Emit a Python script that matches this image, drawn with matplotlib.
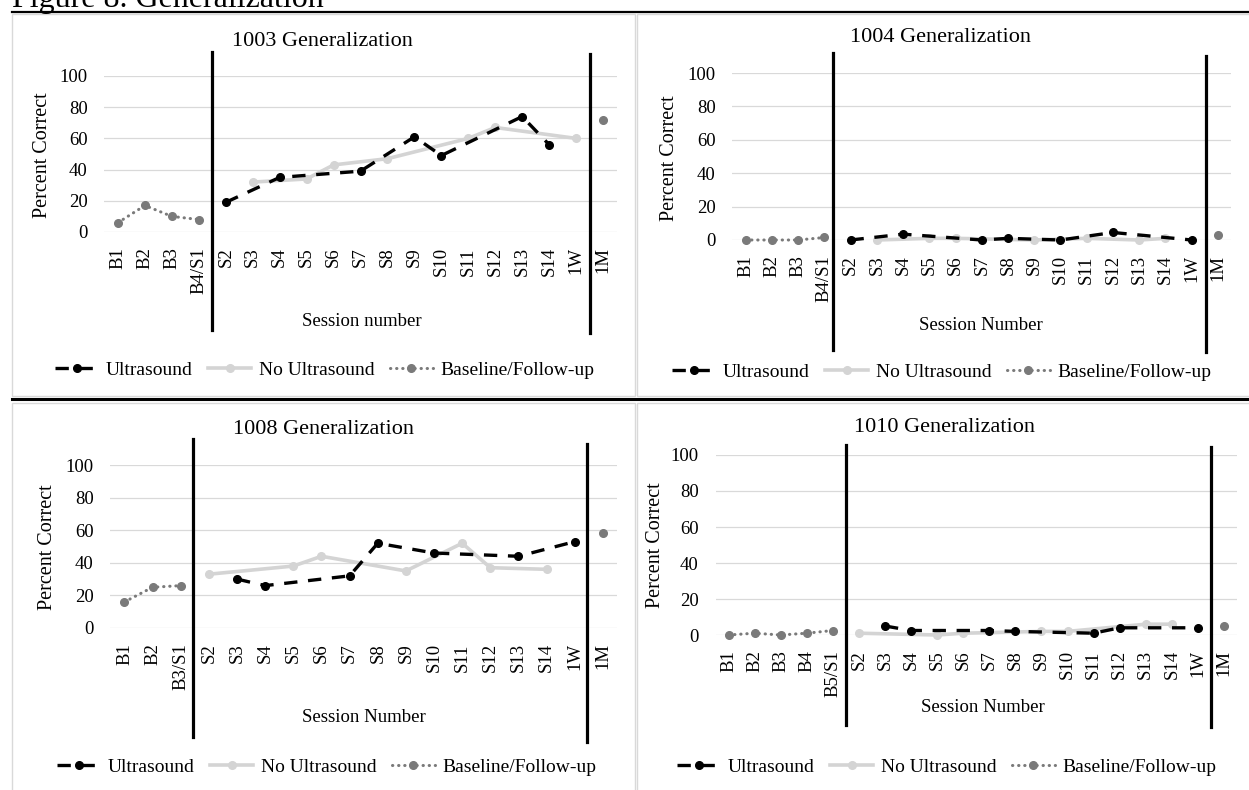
import numpy as np
import matplotlib
matplotlib.use("Agg")
import matplotlib.pyplot as plt
from matplotlib.lines import Line2D
from matplotlib.patches import Rectangle
import matplotlib.transforms as mtrans

plt.rcParams['font.family'] = ['Liberation Serif', 'DejaVu Serif']

nan = np.nan
SESSIONS = ['S2', 'S3', 'S4', 'S5', 'S6', 'S7', 'S8', 'S9', 'S10', 'S11', 'S12', 'S13', 'S14']

# ---- data (percent correct per session) --------------------------------------
cats_1003 = ['B1', 'B2', 'B3', 'B4/S1'] + SESSIONS + ['1W', '1M']
base_1003 = [6, 17, 10, 8] + [nan] * 13 + [nan, 72]
us_1003 = [nan] * 4 + [19, nan, 35, nan, nan, 39, nan, 61, 49, nan, nan, 74, 56] + [nan, nan]
nous_1003 = [nan] * 4 + [nan, 32, nan, 34, 43, nan, 47, nan, nan, 60, 67, nan, nan] + [60, nan]

cats_1004 = ['B1', 'B2', 'B3', 'B4/S1'] + SESSIONS + ['1W', '1M']
base_1004 = [0, 0, 0, 1.5] + [nan] * 13 + [nan, 3]
us_1004 = [nan] * 4 + [0, nan, 3.5, nan, nan, 0, 1, nan, 0, nan, 4.5, nan, nan] + [0, nan]
nous_1004 = [nan] * 4 + [nan, 0, nan, 1, 1, nan, nan, 0, nan, 1, nan, 0, 1] + [nan, nan]

cats_1008 = ['B1', 'B2', 'B3/S1'] + SESSIONS + ['1W', '1M']
base_1008 = [16, 25, 26] + [nan] * 13 + [nan, 58]
us_1008 = [nan] * 3 + [nan, 30, 26, nan, nan, 32, 52, nan, 46, nan, nan, 44, nan] + [53, nan]
nous_1008 = [nan] * 3 + [33, nan, nan, 38, 44, nan, nan, 35, nan, 52, 37, nan, 36] + [nan, nan]

cats_1010 = ['B1', 'B2', 'B3', 'B4', 'B5/S1'] + SESSIONS + ['1W', '1M']
base_1010 = [0, 1, 0, 1, 2.5] + [nan] * 13 + [nan, 5]
us_1010 = [nan] * 5 + [nan, 5, 2.5, nan, nan, 2.5, 2, nan, nan, 1, 4, nan, nan] + [4, nan]
nous_1010 = [nan] * 5 + [1, nan, nan, 0, 1, nan, nan, 2, 2, nan, nan, 6, 6] + [nan, nan]

titles = ['1003 Generalization', '1004 Generalization', '1008 Generalization', '1010 Generalization']
xlabels = ['Session number', 'Session Number', 'Session Number', 'Session Number']

# ---- layout (pixels of the 1249x790 canvas) ----------------------------------
W, H = 1249, 790
fig = plt.figure(figsize=(W / 100, H / 100), dpi=100)


def fx(px):
    return px / W


def fy(py):
    return 1 - py / H


panels = [
    dict(cats=cats_1003, base=base_1003, us=us_1003, nous=nous_1003,
         box=(104.5, 76, 616.5, 232), title=(322, 41), ylab=(43, 155), xlab=(362, 322),
         leg=(325, 370), breaks=[(3.5, 52, 330), (17.5, 54, 333)]),
    dict(cats=cats_1004, base=base_1004, us=us_1004, nous=nous_1004,
         box=(732.4, 73, 1231.1, 240), title=(941, 37), ylab=(670, 158), xlab=(981, 325),
         leg=(942, 372), breaks=[(3.32, 53, 350), (17.55, 56, 352)]),
    dict(cats=cats_1008, base=base_1008, us=us_1008, nous=nous_1008,
         box=(110.4, 465, 617, 628), title=(324, 430), ylab=(47, 547), xlab=(364, 717),
         leg=(327, 767), breaks=[(2.45, 439, 737), (16.45, 444, 742)]),
    dict(cats=cats_1010, base=base_1010, us=us_1010, nous=nous_1010,
         box=(715.5, 455, 1237, 635), title=(945, 427), ylab=(655, 545), xlab=(983, 708),
         leg=(947, 767), breaks=[(4.5, 445, 725), (18.5, 447, 727)]),
]

US_COLOR = '#000000'
NOUS_COLOR = '#d4d4d4'
BASE_COLOR = '#7a7a7a'
GRID_COLOR = '#d9d9d9'
FS = 13.5

for i, p in enumerate(panels):
    left, top, right, bottom = p['box']
    ax = fig.add_axes([fx(left), fy(bottom), (right - left) / W, (bottom - top) / H])
    n = len(p['cats'])
    x = np.arange(n)

    base = np.array(p['base'], dtype=float)
    us = np.array(p['us'], dtype=float)
    nous = np.array(p['nous'], dtype=float)

    # baseline / follow-up: gaps stay gaps
    ax.plot(x, base, color=BASE_COLOR, lw=2.2, linestyle=(0, (0.1, 1.9)),
            dash_capstyle='round', marker='o', ms=5.5, mfc=BASE_COLOR, mec=BASE_COLOR,
            clip_on=False, zorder=3)
    # treatment series: empty sessions are bridged
    m = ~np.isnan(nous)
    ax.plot(x[m], nous[m], color=NOUS_COLOR, lw=2.6, marker='o', ms=5.5,
            mfc=NOUS_COLOR, mec=NOUS_COLOR, clip_on=False, zorder=3)
    m = ~np.isnan(us)
    ax.plot(x[m], us[m], color=US_COLOR, lw=2.4, linestyle=(0, (4, 3.2)),
            marker='o', ms=5.5, mfc=US_COLOR, mec=US_COLOR, clip_on=False, zorder=4)

    ax.set_xlim(-0.5, n - 0.5)
    ax.set_ylim(0, 100)
    ax.set_yticks(np.arange(0, 101, 20))
    ax.set_xticks(x)
    ax.set_xticklabels(p['cats'], rotation=90, fontsize=FS)
    ax.tick_params(axis='x', length=0, pad=11)
    ax.tick_params(axis='y', length=0, pad=12, labelsize=FS)
    ax.grid(axis='y', color=GRID_COLOR, lw=0.9)
    ax.set_axisbelow(True)
    for s in ax.spines.values():
        s.set_visible(False)
    ax.patch.set_alpha(0)

    # phase-change lines
    trans = mtrans.blended_transform_factory(ax.transData, fig.transFigure)
    for bx, y0, y1 in p['breaks']:
        ax.add_line(Line2D([bx, bx], [fy(y0), fy(y1)], transform=trans,
                           color='black', lw=2.3, clip_on=False, zorder=5))

    fig.text(fx(p['title'][0]), fy(p['title'][1]), titles[i], fontsize=16,
             ha='center', va='center')
    fig.text(fx(p['ylab'][0]), fy(p['ylab'][1]), 'Percent Correct', fontsize=14.5,
             ha='center', va='center', rotation=90)
    fig.text(fx(p['xlab'][0]), fy(p['xlab'][1]), xlabels[i], fontsize=FS,
             ha='center', va='center')

    handles = [
        Line2D([], [], color=US_COLOR, lw=2.4, linestyle=(0, (4, 3.2)), marker='o',
               ms=5.5, markevery=[1]),
        Line2D([], [], color=NOUS_COLOR, lw=2.6, marker='o', ms=5.5, markevery=[1]),
        Line2D([], [], color=BASE_COLOR, lw=2.2, linestyle=(0, (0.1, 1.9)),
               dash_capstyle='round', marker='o', ms=5.5, markevery=[1]),
    ]
    for h in handles:
        h.set_data([0, 0.5, 1], [0, 0, 0])
    fig.legend(handles, ['Ultrasound', 'No Ultrasound', 'Baseline/Follow-up'],
               loc='center', bbox_to_anchor=(fx(p['leg'][0]), fy(p['leg'][1])),
               ncol=3, frameon=False, fontsize=14, handlelength=2.2,
               handletextpad=0.4, columnspacing=0.8, borderpad=0)

# ---- page furniture: caption, rules and chart frames --------------------------
fig.text(fx(12), fy(7), 'Figure 8. Generalization', fontsize=23, ha='left', va='baseline')
fig.add_artist(Line2D([fx(12), 1], [fy(12), fy(12)], color='black', lw=1.6))
fig.add_artist(Line2D([fx(12), 1], [fy(399), fy(399)], color='black', lw=2.2))
for (l, t, r, b) in [(12, 14, 635, 396), (637, 14, 1252, 396),
                     (12, 403, 635, 795), (637, 403, 1252, 795)]:
    fig.add_artist(Rectangle((fx(l), fy(b)), (r - l) / W, (b - t) / H,
                             transform=fig.transFigure, fill=False,
                             edgecolor=GRID_COLOR, lw=1, zorder=0))

fig.savefig('out.png', dpi=100)
